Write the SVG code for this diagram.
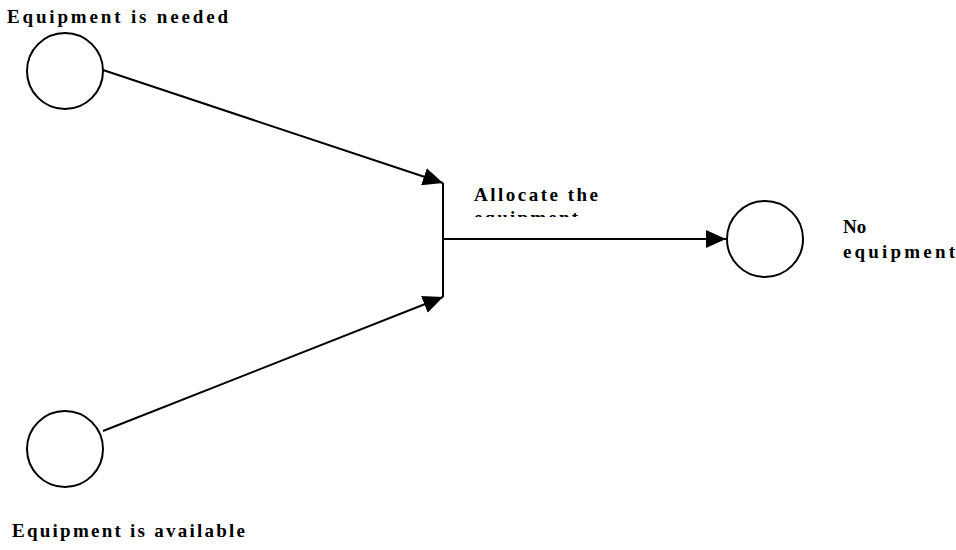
<svg xmlns="http://www.w3.org/2000/svg" width="956" height="550" viewBox="0 0 956 550">
<style>
.node{fill:#fff;stroke:#000;stroke-width:2}
.lbl{font-family:"Liberation Serif","Times New Roman",serif;font-weight:bold;font-size:19px;fill:#000}
.edge{stroke:#000;stroke-width:2;fill:none}
</style>
<defs>
<marker id="arr" markerUnits="userSpaceOnUse" markerWidth="20" markerHeight="20" viewBox="0 0 20 20" refX="20" refY="10" orient="auto">
<path d="M0,1 L20,10 L0,19 Z" fill="#000"/>
</marker>
<clipPath id="clipEq"><rect x="460" y="205" width="160" height="12"/></clipPath>
</defs>
<rect width="956" height="550" fill="#fff"/>
<g id="connectors">
<line class="edge" x1="103" y1="70" x2="443" y2="183" marker-end="url(#arr)"/>
<line class="edge" x1="103" y1="431" x2="443" y2="297" marker-end="url(#arr)"/>
<line class="edge" x1="443" y1="183" x2="443" y2="297"/>
<line class="edge" x1="443" y1="239" x2="726" y2="239" marker-end="url(#arr)"/>
</g>
<g id="needed">
<circle class="node" cx="65" cy="71" r="38"/>
<text class="lbl" x="7" y="23" textLength="221" lengthAdjust="spacing">Equipment is needed</text>
</g>
<g id="available">
<circle class="node" cx="65" cy="449" r="38"/>
<text class="lbl" x="12" y="537" textLength="233" lengthAdjust="spacing">Equipment is available</text>
</g>
<g id="allocate">
<text class="lbl" x="474" y="201" textLength="124" lengthAdjust="spacing">Allocate the</text>
<text class="lbl" x="474" y="224" textLength="104" lengthAdjust="spacing" clip-path="url(#clipEq)">equipment</text>
</g>
<g id="noequipment">
<circle class="node" cx="765" cy="239" r="38"/>
<text class="lbl" x="843" y="233">No</text>
<text class="lbl" x="843" y="258" textLength="112" lengthAdjust="spacing">equipment</text>
</g>
</svg>
